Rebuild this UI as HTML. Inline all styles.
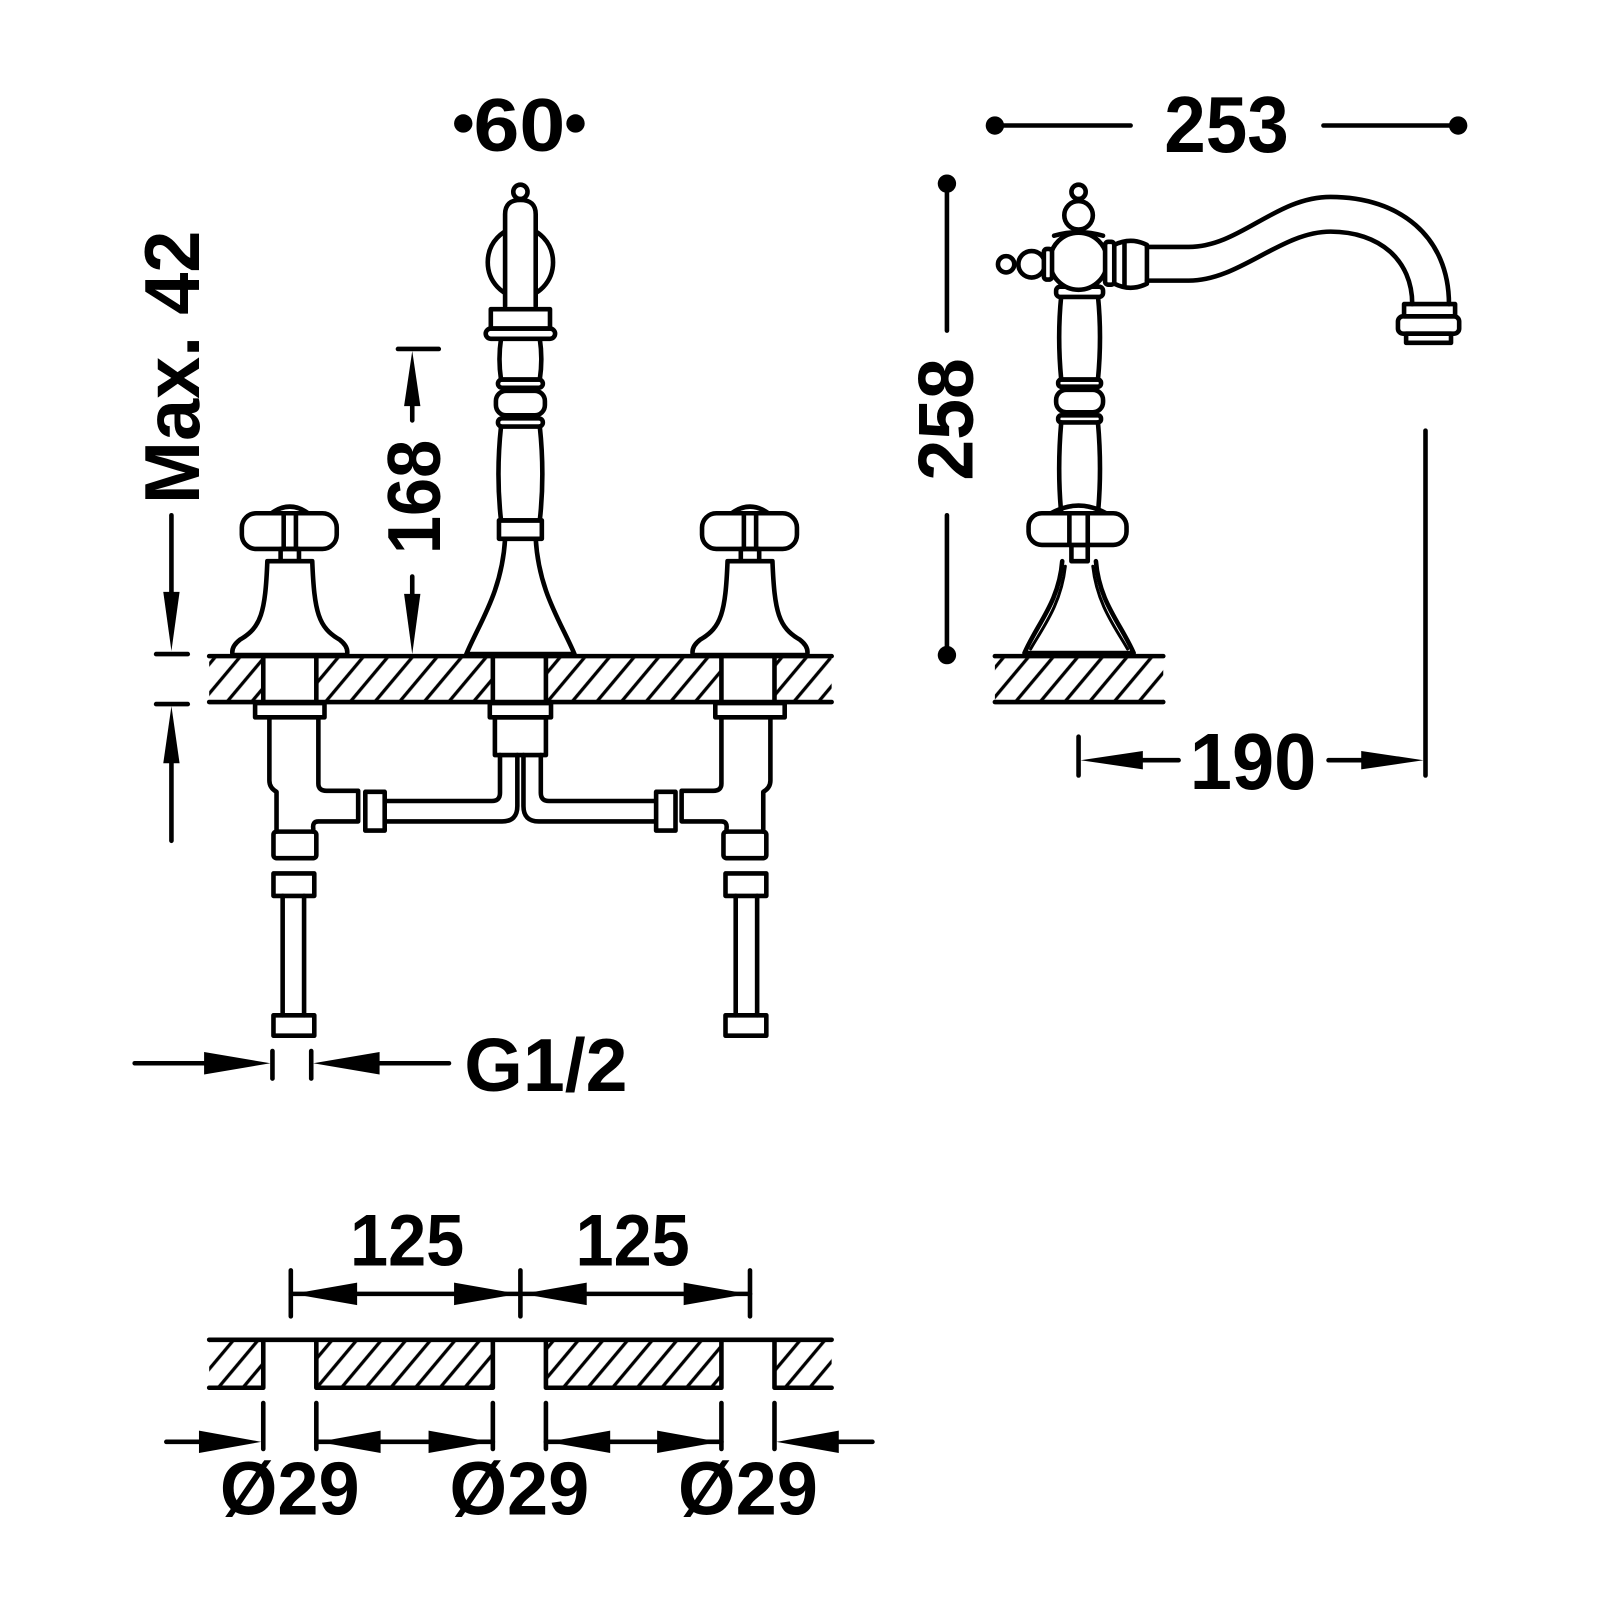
<!DOCTYPE html>
<html><head><meta charset="utf-8"><style>
html,body{margin:0;padding:0;background:#fff;}
svg{display:block;}
text{font-family:"Liberation Sans",Arial,sans-serif;font-weight:bold;fill:#000;}
</style></head><body>
<svg width="1600" height="1600" viewBox="0 0 1600 1600" xmlns="http://www.w3.org/2000/svg">
<defs>
<pattern id="h" patternUnits="userSpaceOnUse" width="18.5" height="18.5" patternTransform="rotate(40)">
<line x1="2" y1="0" x2="2" y2="18.5" stroke="#000" stroke-width="3.2"/>
</pattern>
</defs>
<rect width="1600" height="1600" fill="#fff"/>
<g transform="scale(1.0204)" stroke="#000" stroke-width="4.5" fill="none" stroke-linecap="round" stroke-linejoin="round">

<!-- ===== FRONT DECK ===== -->
<g stroke="none" fill="url(#h)">
<rect x="205" y="645" width="53" height="42"/>
<rect x="310" y="645" width="173" height="42"/>
<rect x="535" y="645" width="172" height="42"/>
<rect x="759" y="645" width="56" height="42"/>
</g>
<line x1="205" y1="643" x2="815" y2="643"/>
<line x1="205" y1="688" x2="815" y2="688"/>
<path d="M258,643V688M310,643V688M483,643V688M535,643V688M707,643V688M759,643V688"/>

<!-- ===== LEFT HANDLE ===== -->
<g id="hl">
<path d="M266,503 Q284,490 302,503"/>
<rect x="237" y="503" width="93" height="35" rx="14" fill="#fff"/>
<path d="M278,503V538M290,503V538"/>
<rect x="275" y="538" width="18" height="12"/>
<path d="M262,550 L306,550 C308,600 312,615 333,627 Q342,634 340,642 L228,642 Q226,634 235,627 C256,615 260,600 262,550 Z" fill="#fff"/>
</g>
<use href="#hl" transform="translate(451,0)"/>

<!-- ===== CENTER SPOUT ===== -->
<ellipse cx="510" cy="257" rx="32" ry="34"/>
<circle cx="510" cy="188" r="7" fill="#fff"/>
<path d="M495,300 V210 Q495,196 510,196 Q525,196 525,210 V300" fill="#fff"/>
<rect x="481" y="303" width="58" height="19"/>
<rect x="476" y="322" width="68" height="10" rx="5"/>
<path d="M491,332 Q488,352 491,372 L529,372 Q532,352 529,332"/>
<rect x="488" y="372" width="44" height="8" rx="4"/>
<rect x="486" y="383" width="48" height="24" rx="10"/>
<rect x="488" y="410" width="44" height="8" rx="4"/>
<path d="M491,418 Q486,465 491,510 L529,510 Q534,465 529,418"/>
<rect x="489" y="510" width="42" height="18"/>
<path d="M495,528 C492,580 470,610 457,641 L563,641 C550,610 528,580 525,528"/>

<!-- ===== BELOW DECK LEFT ===== -->
<g id="bl">
<rect x="250" y="689" width="68" height="14"/>
<path d="M264,703 V765 Q264,772 271,776 V815"/>
<path d="M312,703 V768 Q312,775 320,775 H351 V805 H312 Q306,805 307,812 V815"/>
<rect x="268" y="815" width="42" height="26" rx="3"/>
<rect x="268" y="856" width="40" height="22"/>
<path d="M277,878V995M298,878V995"/>
<rect x="268" y="995" width="40" height="20"/>
</g>
<use href="#bl" transform="translate(1019,0) scale(-1,1)"/>

<!-- center below -->
<rect x="480" y="689" width="60" height="14"/>
<rect x="485" y="703" width="50" height="37"/>
<path d="M490,740 V777 Q490,785 482,785 H378"/>
<path d="M507,740 V790 Q507,805 492,805 H378"/>
<path d="M530,740 V777 Q530,785 538,785 H642"/>
<path d="M513,740 V790 Q513,805 528,805 H642"/>
<rect x="358" y="776" width="19" height="38"/>
<rect x="643" y="776" width="19" height="38"/>

<!-- ===== DIM 60 ===== -->
<circle cx="454" cy="121" r="9" fill="#000" stroke="none"/>
<circle cx="564" cy="121" r="9" fill="#000" stroke="none"/>
<text x="509" y="148" font-size="74" text-anchor="middle" textLength="90" lengthAdjust="spacingAndGlyphs" stroke="none">60</text>

<!-- ===== Max 42 ===== -->
<text transform="translate(195,360) rotate(-90)" font-size="76" text-anchor="middle" textLength="268" lengthAdjust="spacingAndGlyphs" stroke="none">Max. 42</text>
<line x1="168" y1="505" x2="168" y2="585"/>
<polygon points="160,580 176,580 168,638" fill="#000" stroke="none"/>
<line x1="153" y1="641" x2="184" y2="641"/>
<line x1="153" y1="690" x2="184" y2="690"/>
<polygon points="160,748 176,748 168,692" fill="#000" stroke="none"/>
<line x1="168" y1="745" x2="168" y2="824"/>

<!-- ===== 168 ===== -->
<line x1="390" y1="342" x2="430" y2="342"/>
<polygon points="396,398 412,398 404,344" fill="#000" stroke="none"/>
<line x1="404" y1="395" x2="404" y2="412"/>
<text transform="translate(431,487) rotate(-90)" font-size="74" text-anchor="middle" textLength="112" lengthAdjust="spacingAndGlyphs" stroke="none">168</text>
<line x1="404" y1="565" x2="404" y2="585"/>
<polygon points="396,582 412,582 404,641" fill="#000" stroke="none"/>

<!-- ===== G1/2 ===== -->
<line x1="132" y1="1042" x2="205" y2="1042"/>
<polygon points="200,1031 200,1053 265,1042" fill="#000" stroke="none"/>
<line x1="267" y1="1030" x2="267" y2="1057"/>
<line x1="305" y1="1030" x2="305" y2="1057"/>
<polygon points="372,1031 372,1053 307,1042" fill="#000" stroke="none"/>
<line x1="370" y1="1042" x2="440" y2="1042"/>
<text x="455" y="1069" font-size="74" textLength="160" lengthAdjust="spacingAndGlyphs" stroke="none">G1/2</text>

<!-- ===== SIDE VIEW ===== -->
<rect x="975" y="645" width="165" height="42" fill="url(#h)" stroke="none"/>
<line x1="975" y1="643" x2="1140" y2="643"/>
<line x1="975" y1="688" x2="1140" y2="688"/>
<path d="M1041,550 C1038,590 1016,612 1004,640 L1111,640 C1099,612 1077,590 1074,550"/>
<path d="M1044,555 C1040,592 1022,615 1010,636 M1071,555 C1075,592 1093,615 1105,636" stroke-width="3"/>
<rect x="1050" y="534" width="16" height="16"/>
<path d="M1030,503 Q1057,488 1084,503"/>
<rect x="1008" y="503" width="96" height="31" rx="13" fill="#fff"/>
<path d="M1048,503V534M1066,503V534"/>
<path d="M1040,290 Q1036,330 1040,372 L1076,372 Q1080,330 1076,290"/>
<rect x="1037" y="372" width="42" height="7" rx="3"/>
<rect x="1035" y="382" width="46" height="22" rx="10"/>
<rect x="1037" y="407" width="42" height="7" rx="3"/>
<path d="M1040,414 Q1036,460 1040,503 M1076,414 Q1080,460 1076,503"/>
<rect x="1035" y="281" width="46" height="10" rx="4" fill="#fff"/>
<circle cx="1057" cy="256" r="28" fill="#fff"/>
<path d="M1033,231 Q1057,224 1081,231"/>
<circle cx="1057" cy="211" r="14" fill="#fff"/>
<circle cx="1057" cy="188" r="7" fill="#fff"/>
<circle cx="1011" cy="259" r="13" fill="#fff"/>
<circle cx="986" cy="259" r="8" fill="#fff"/>
<rect x="1023" y="244" width="8" height="30" rx="3" fill="#fff"/>
<rect x="1083" y="237" width="9" height="42" rx="3" fill="#fff"/>
<path d="M1092,240 Q1108,232 1124,240 L1124,278 Q1108,286 1092,278 Z" fill="#fff"/>
<line x1="1102" y1="238" x2="1102" y2="280"/>
<path d="M1124,242 L1165,242 C1215,242 1250,193 1304,193 C1372,193 1420,232 1420,298"/>
<path d="M1124,275 L1165,275 C1215,275 1255,227 1304,227 C1352,227 1384,255 1384,298"/>
<rect x="1376" y="298" width="50" height="12"/>
<rect x="1370" y="310" width="60" height="17" rx="5"/>
<rect x="1378" y="327" width="44" height="9"/>

<!-- 253 -->
<circle cx="975" cy="123" r="9" fill="#000" stroke="none"/>
<line x1="975" y1="123" x2="1108" y2="123"/>
<text x="1202" y="149" font-size="78" text-anchor="middle" textLength="122" lengthAdjust="spacingAndGlyphs" stroke="none">253</text>
<line x1="1297" y1="123" x2="1428" y2="123"/>
<circle cx="1429" cy="123" r="9" fill="#000" stroke="none"/>

<!-- 258 -->
<circle cx="928" cy="180" r="9" fill="#000" stroke="none"/>
<line x1="928" y1="180" x2="928" y2="324"/>
<text transform="translate(953,411) rotate(-90)" font-size="76" text-anchor="middle" textLength="120" lengthAdjust="spacingAndGlyphs" stroke="none">258</text>
<line x1="928" y1="505" x2="928" y2="642"/>
<circle cx="928" cy="642" r="9" fill="#000" stroke="none"/>

<!-- 190 -->
<line x1="1057" y1="722" x2="1057" y2="760"/>
<polygon points="1059,745 1120,736 1120,754" fill="#000" stroke="none"/>
<line x1="1115" y1="745" x2="1155" y2="745"/>
<text x="1228" y="773" font-size="78" text-anchor="middle" textLength="124" lengthAdjust="spacingAndGlyphs" stroke="none">190</text>
<line x1="1302" y1="745" x2="1340" y2="745"/>
<polygon points="1395,745 1334,736 1334,754" fill="#000" stroke="none"/>
<line x1="1397" y1="422" x2="1397" y2="760"/>

<!-- ===== BOTTOM PLAN ===== -->
<g stroke="none" fill="url(#h)">
<rect x="205" y="1315" width="53" height="44"/>
<rect x="310" y="1315" width="173" height="44"/>
<rect x="535" y="1315" width="172" height="44"/>
<rect x="759" y="1315" width="56" height="44"/>
</g>
<line x1="205" y1="1313" x2="815" y2="1313"/>
<path d="M205,1360H258V1313M310,1313V1360H483V1313M535,1313V1360H707V1313M759,1313V1360H815"/>

<path d="M285,1245V1290M510,1245V1290M735,1245V1290"/>
<line x1="285" y1="1268" x2="735" y2="1268"/>
<polygon points="287,1268 350,1257 350,1279" fill="#000" stroke="none"/>
<polygon points="508,1268 445,1257 445,1279" fill="#000" stroke="none"/>
<polygon points="512,1268 575,1257 575,1279" fill="#000" stroke="none"/>
<polygon points="733,1268 670,1257 670,1279" fill="#000" stroke="none"/>
<text x="399" y="1240" font-size="72" text-anchor="middle" textLength="112" lengthAdjust="spacingAndGlyphs" stroke="none">125</text>
<text x="620" y="1240" font-size="72" text-anchor="middle" textLength="112" lengthAdjust="spacingAndGlyphs" stroke="none">125</text>

<path d="M258,1375V1420M310,1375V1420M483,1375V1420M535,1375V1420M707,1375V1420M759,1375V1420"/>
<line x1="163" y1="1413" x2="200" y2="1413"/>
<polygon points="256,1413 195,1402 195,1424" fill="#000" stroke="none"/>
<line x1="310" y1="1413" x2="483" y2="1413"/>
<polygon points="312,1413 373,1402 373,1424" fill="#000" stroke="none"/>
<polygon points="481,1413 420,1402 420,1424" fill="#000" stroke="none"/>
<line x1="535" y1="1413" x2="707" y2="1413"/>
<polygon points="537,1413 598,1402 598,1424" fill="#000" stroke="none"/>
<polygon points="705,1413 644,1402 644,1424" fill="#000" stroke="none"/>
<polygon points="761,1413 822,1402 822,1424" fill="#000" stroke="none"/>
<line x1="820" y1="1413" x2="855" y2="1413"/>
<text x="284" y="1484" font-size="74" text-anchor="middle" textLength="137" lengthAdjust="spacingAndGlyphs" stroke="none">Ø29</text>
<text x="509" y="1484" font-size="74" text-anchor="middle" textLength="137" lengthAdjust="spacingAndGlyphs" stroke="none">Ø29</text>
<text x="733" y="1484" font-size="74" text-anchor="middle" textLength="137" lengthAdjust="spacingAndGlyphs" stroke="none">Ø29</text>
</g>
</svg>
</body></html>
